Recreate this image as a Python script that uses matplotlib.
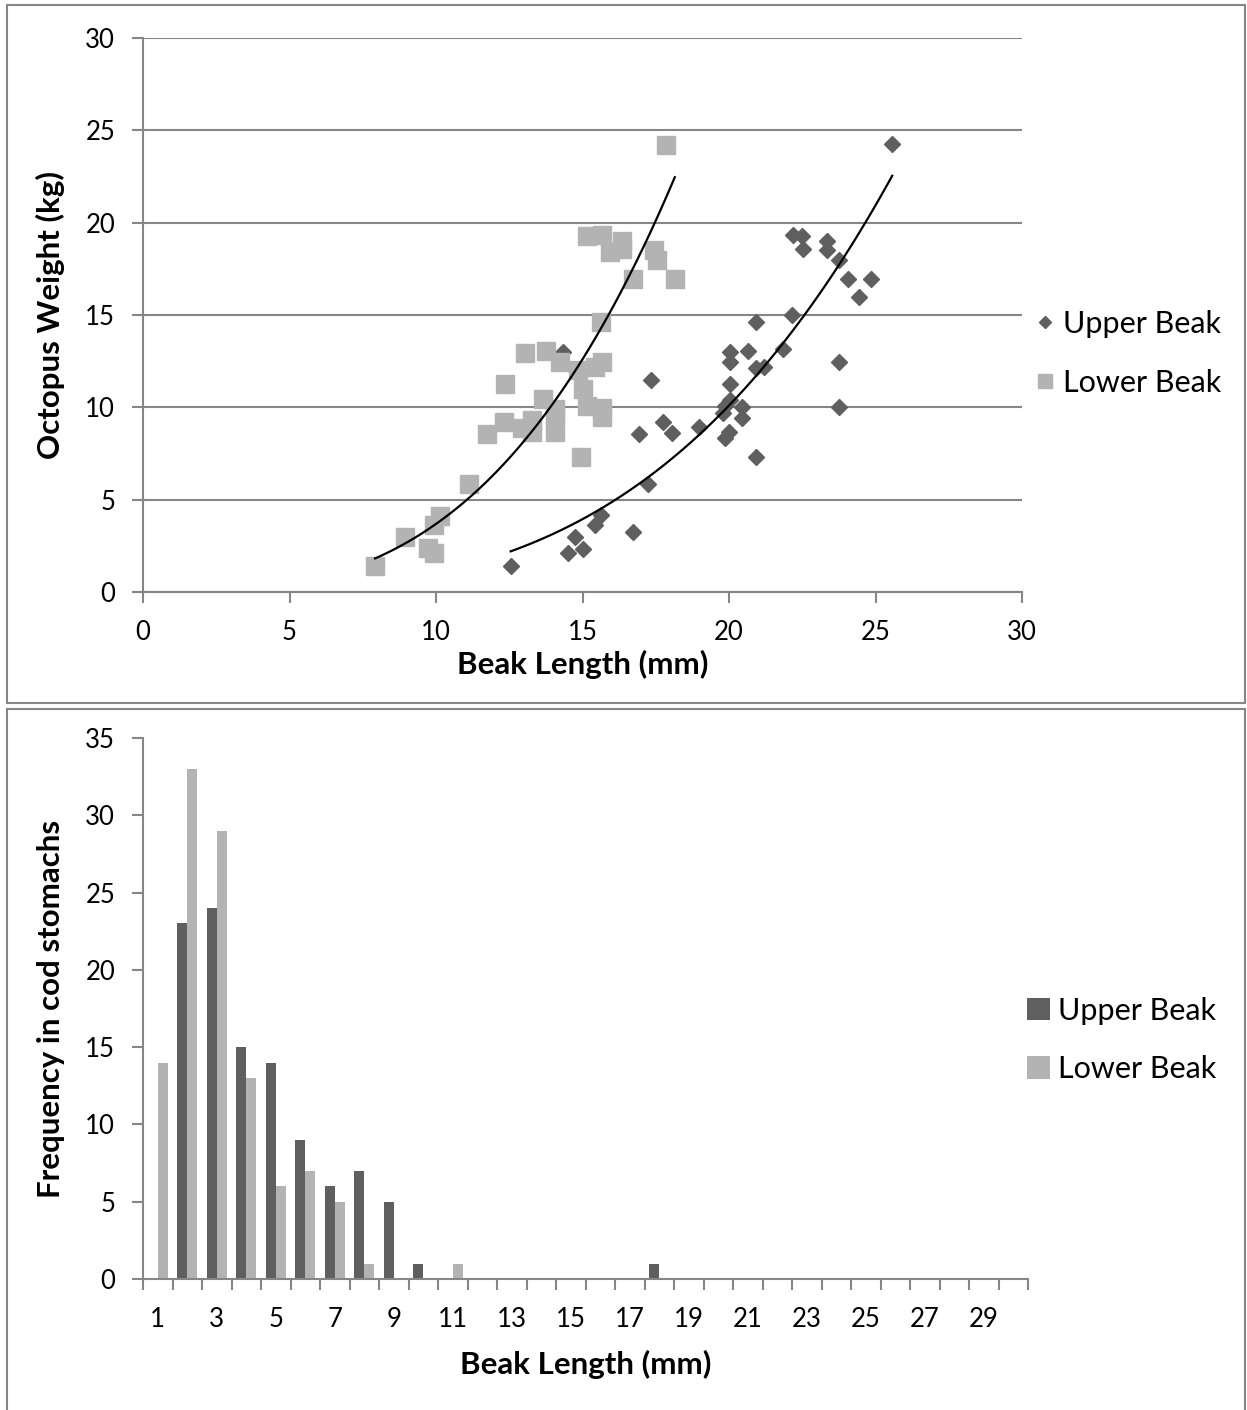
import numpy as np
import matplotlib
matplotlib.use("Agg")
import matplotlib.pyplot as plt
from matplotlib.patches import Rectangle

plt.rcParams['font.family'] = ['Lato', 'DejaVu Sans']

# octopus weight vs beak length
lower_x = [17.85, 15.14, 15.65, 16.35, 15.94, 16.35, 17.44, 17.53, 18.15, 16.73,
           15.64, 13.04, 13.74, 14.23, 15.65, 15.43, 14.86, 12.34, 15.03, 13.64,
           14.06, 15.14, 15.65, 15.65, 14.06, 14.06, 12.32, 12.92, 13.27, 13.27,
           11.73, 14.94, 11.13, 10.14, 9.93, 8.94, 9.74, 9.93, 7.92]
lower_y = [24.2, 19.27, 19.33, 19.0, 18.43, 18.57, 18.5, 17.97, 16.95, 16.93,
           14.62, 12.96, 13.07, 12.47, 12.47, 12.17, 12.02, 11.24, 10.97, 10.47,
           9.89, 10.07, 9.95, 9.46, 9.6, 8.68, 9.2, 8.9, 9.31, 8.68,
           8.55, 7.33, 5.85, 4.13, 3.63, 2.96, 2.37, 2.1, 1.42]

upper_x = [25.57, 22.17, 22.48, 22.54, 23.33, 23.33, 23.77, 24.07, 24.85, 24.45,
           22.14, 20.93, 20.03, 20.64, 20.03, 21.85, 20.92, 21.19, 23.75, 17.34,
           20.03, 20.03, 19.86, 20.43, 19.81, 20.43, 23.75, 17.74, 18.04, 16.94,
           18.99, 20.01, 19.86, 20.93, 17.25, 15.63, 15.43, 16.73, 14.74, 15.03,
           14.52, 12.55, 14.35]
upper_y = [24.26, 19.33, 19.27, 18.57, 19.02, 18.5, 17.97, 16.95, 16.95, 15.99,
           15.0, 14.6, 13.01, 13.07, 12.47, 13.16, 12.11, 12.17, 12.47, 11.48,
           11.24, 10.4, 10.07, 10.03, 9.67, 9.4, 10.0, 9.22, 8.62, 8.54,
           8.95, 8.68, 8.32, 7.33, 5.85, 4.17, 3.63, 3.27, 3.0, 2.33,
           2.1, 1.42, 13.01]

# frequency of beak lengths in cod stomachs, 1..30 mm
bins = list(range(1, 31))
upper_freq = [0, 23, 24, 15, 14, 9, 6, 7, 5, 1, 0, 0, 0, 0, 0, 0, 0, 1,
              0, 0, 0, 0, 0, 0, 0, 0, 0, 0, 0, 0]
lower_freq = [14, 33, 29, 13, 6, 7, 5, 1, 0, 0, 1, 0, 0, 0, 0, 0, 0, 0,
              0, 0, 0, 0, 0, 0, 0, 0, 0, 0, 0, 0]

DARK = '#5f5f5f'
LIGHT = '#b3b3b3'
AXIS = '#868686'

W, H = 1247, 1410
fig = plt.figure(figsize=(W / 100, H / 100), dpi=100)


def box(x0, y0, x1, y1):
    # pixel coords (top-left origin) -> figure fraction
    return [x0 / W, 1 - y1 / H, (x1 - x0) / W, (y1 - y0) / H]


# panel frames
for x0, y0, x1, y1 in [(7, 5, 1245, 703), (7, 709, 1245, 1420)]:
    fig.add_artist(Rectangle((x0 / W, 1 - y1 / H), (x1 - x0) / W, (y1 - y0) / H,
                             transform=fig.transFigure, fill=False,
                             edgecolor=AXIS, linewidth=1.5))


def style_axes(ax):
    for side in ['top', 'right']:
        ax.spines[side].set_visible(False)
    for side in ['left', 'bottom']:
        ax.spines[side].set_color(AXIS)
        ax.spines[side].set_linewidth(1.5)
    ax.tick_params(which='both', direction='out', color=AXIS, width=1.5,
                   length=8, labelsize=18.5, pad=12)


#1 scatter with power trend lines
ax1 = fig.add_axes(box(143, 38, 1022, 592))
style_axes(ax1)
ax1.set_xlim(0, 30)
ax1.set_ylim(0, 30)
ax1.set_xticks(range(0, 31, 5))
ax1.set_yticks(range(0, 31, 5))
ax1.yaxis.grid(True, color=AXIS, linewidth=1.5)
ax1.set_axisbelow(True)

ax1.plot(upper_x, upper_y, linestyle='none', marker='D', ms=8.5,
         color=DARK, label='Upper Beak', zorder=3)
ax1.plot(lower_x, lower_y, linestyle='none', marker='s', ms=13,
         color=LIGHT, label='Lower Beak', zorder=3)

for xs, ys in [(lower_x, lower_y), (upper_x, upper_y)]:
    xs = np.array(xs)
    b, a = np.polyfit(np.log(xs), np.log(ys), 1)
    xx = np.linspace(xs.min(), xs.max(), 100)
    ax1.plot(xx, np.exp(a) * xx ** b, color='black', linewidth=1.6, zorder=4)

ax1.set_xlabel('Beak Length (mm)', fontsize=22.5, fontweight='bold')
ax1.set_ylabel('Octopus Weight (kg)', fontsize=22.5, fontweight='bold')
ax1.xaxis.set_label_coords(0.5, -0.105)
ax1.yaxis.set_label_coords(-0.089, 0.5)
ax1.legend(loc='center left', bbox_to_anchor=(0.984, 0.431), frameon=False,
           fontsize=22, markerscale=0.75, handlelength=0.6, handletextpad=0.3,
           labelspacing=1.0)

#2 grouped bars
ax2 = fig.add_axes(box(143, 738, 1028, 1279))
style_axes(ax2)
idx = np.arange(len(bins))
bw = 1 / 3
ax2.bar(idx - bw / 2, upper_freq, width=bw, color=DARK, label='Upper Beak')
ax2.bar(idx + bw / 2, lower_freq, width=bw, color=LIGHT, label='Lower Beak')
ax2.set_xlim(-0.5, len(bins) - 0.5)
ax2.set_ylim(0, 35)
ax2.set_yticks(range(0, 36, 5))
ax2.set_xticks(np.arange(len(bins) + 1) - 0.5)
ax2.set_xticklabels([])
ax2.set_xticks(idx[::2], [str(b) for b in bins[::2]], minor=True)
ax2.tick_params(axis='x', which='minor', length=0, pad=20)

ax2.set_xlabel('Beak Length (mm)', fontsize=22.5, fontweight='bold')
ax2.set_ylabel('Frequency in cod stomachs', fontsize=22.5, fontweight='bold')
ax2.xaxis.set_label_coords(0.5, -0.131)
ax2.yaxis.set_label_coords(-0.088, 0.5)
ax2.legend(loc='center left', bbox_to_anchor=(0.968, 0.442), frameon=False,
           fontsize=22, handlelength=0.75, handleheight=0.75, handletextpad=0.25,
           labelspacing=1.0)

fig.savefig('out.png', dpi=100)
